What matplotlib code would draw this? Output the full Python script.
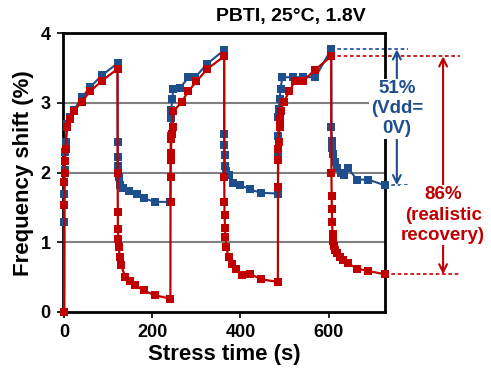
import numpy as np
import matplotlib.pyplot as plt

plt.rcParams['font.family'] = ['Liberation Sans', 'DejaVu Sans']
plt.rcParams['font.weight'] = 'bold'

BLUE = '#1F4E8C'
RED = '#C00000'

# Vdd = 0V recovery (blue), stress/recovery cycles
blue_t = [0, 0.3, 0.6, 1, 2, 3, 6.5, 12.5, 22, 40, 59, 86, 121,
          121.3, 121.6, 122, 123.6, 126.8, 133.5, 146, 165, 182, 205, 241,
          241.3, 241.6, 242, 243, 245, 248, 263.5, 282, 297.5, 324, 363,
          363.3, 363.6, 364, 365, 367, 373, 384, 400, 422, 446, 485,
          485.3, 485.6, 486, 487, 489, 491, 495, 520, 543, 570, 606,
          606.5, 607, 608, 610, 614, 620, 628, 634, 645, 664, 690, 727]
blue_y = [0, 1.29, 1.70, 2.04, 2.30, 2.44, 2.70, 2.80, 2.90, 3.08, 3.23, 3.40, 3.57,
          2.44, 2.23, 2.10, 1.94, 1.82, 1.78, 1.73, 1.70, 1.63, 1.58, 1.58,
          2.20, 2.53, 2.79, 2.90, 3.06, 3.20, 3.22, 3.37, 3.37, 3.56, 3.76,
          2.56, 2.40, 2.25, 2.10, 2.02, 1.96, 1.85, 1.82, 1.76, 1.71, 1.70,
          2.25, 2.52, 2.80, 2.92, 3.06, 3.20, 3.37, 3.37, 3.37, 3.37, 3.77,
          2.65, 2.46, 2.35, 2.27, 2.15, 2.06, 2.00, 1.96, 2.06, 1.90, 1.90, 1.82]

# realistic recovery (red)
red_t = [0, 0.3, 0.6, 1, 2, 3, 6.5, 12.5, 22, 40, 59, 86, 121,
         121.3, 121.6, 122, 122.5, 123.6, 126, 129, 139, 150, 161, 180, 205, 241,
         241.3, 241.6, 242, 242.5, 243, 244.6, 246, 248, 267, 282, 300, 325, 363,
         363.3, 363.6, 364, 365, 366, 368, 373, 381, 390, 403, 421, 446, 485,
         485.3, 485.6, 486, 486.5, 488.8, 490, 492, 498, 511, 524, 543, 570, 606,
         606.5, 607, 607.5, 608, 609, 610, 612, 615, 619, 625, 632, 645, 664, 690, 727]
red_y = [0, 1.53, 1.87, 1.99, 2.17, 2.34, 2.65, 2.77, 2.89, 3.02, 3.17, 3.32, 3.49,
         1.99, 1.43, 1.19, 1.05, 0.93, 0.79, 0.67, 0.50, 0.44, 0.38, 0.31, 0.24, 0.19,
         1.58, 1.94, 2.18, 2.28, 2.49, 2.55, 2.65, 2.88, 3.02, 3.17, 3.31, 3.49, 3.67,
         1.94, 1.58, 1.39, 1.20, 1.08, 0.93, 0.79, 0.69, 0.62, 0.53, 0.55, 0.47, 0.43,
         1.80, 2.18, 2.34, 2.44, 2.65, 2.77, 2.89, 3.01, 3.17, 3.32, 3.32, 3.48, 3.67,
         1.99, 1.67, 1.48, 1.29, 1.12, 1.02, 0.95, 0.89, 0.84, 0.79, 0.74, 0.70, 0.62, 0.59, 0.54]

x_ticks = [0, 200, 400, 600]
y_ticks = [0, 1, 2, 3, 4]

fig = plt.figure(figsize=(4.91, 3.79), dpi=100)
ax = fig.add_axes([0.129, 0.177, 0.655, 0.735])

for yv in y_ticks[1:4]:
    ax.axhline(yv, color='#808080', lw=1.5, zorder=1)

ax.plot(blue_t, blue_y, color=BLUE, lw=1.5, marker='s', ms=6, mew=0, clip_on=False, zorder=3)
ax.plot(red_t, red_y, color=RED, lw=1.6, marker='s', ms=6, mew=0, clip_on=False, zorder=4)

ax.set_xlim(-2, 728)
ax.set_ylim(0, 4)
ax.set_xticks(x_ticks)
ax.set_yticks(y_ticks)
ax.tick_params(direction='out', length=4, width=1.2, labelsize=13, pad=5)
for s in ax.spines.values():
    s.set_linewidth(2)
ax.set_xlabel('Stress time (s)', fontsize=16, fontweight='bold', labelpad=2)
ax.set_ylabel('Frequency shift (%)', fontsize=16, fontweight='bold', labelpad=5)

fig.text(291 / 491, 1 - 17 / 379, 'PBTI, 25\u00b0C, 1.8V', ha='center', va='center',
         fontsize=14, fontweight='bold')

# annotations (51% / 86%)
blue_peak, blue_end = blue_y[-13], blue_y[-1]
red_peak, red_end = red_y[-16], red_y[-1]
xb, xr = 755, 860
dash = (0, (2.2, 1.6))
ax.plot([606, 780], [blue_peak, blue_peak], color=BLUE, lw=1.2, ls=dash, clip_on=False, zorder=2)
ax.plot([727, 780], [blue_end, blue_end], color=BLUE, lw=1.2, ls=dash, clip_on=False, zorder=2)
ax.plot([606, 899], [red_peak, red_peak], color=RED, lw=1.2, ls=dash, clip_on=False, zorder=2)
ax.plot([727, 899], [red_end, red_end], color=RED, lw=1.2, ls=dash, clip_on=False, zorder=2)
ax.annotate('', xy=(xb, blue_peak), xytext=(xb, blue_end), annotation_clip=False,
            arrowprops=dict(arrowstyle='<->', color=BLUE, lw=1.5, mutation_scale=14, shrinkA=0, shrinkB=0))
ax.annotate('', xy=(xr, red_peak), xytext=(xr, red_end), annotation_clip=False,
            arrowprops=dict(arrowstyle='<->', color=RED, lw=1.5, mutation_scale=14, shrinkA=0, shrinkB=0))
ax.text(xb, 2.92, '51%\n(Vdd=\n0V)', color=BLUE, fontsize=13.5, fontweight='bold', ha='center', va='center',
        linespacing=1.25, clip_on=False, zorder=6,
        bbox=dict(facecolor='white', edgecolor='none', pad=1))
ax.text(xr, 1.39, '86%\n(realistic\nrecovery)', color=RED, fontsize=13.5, fontweight='bold', ha='center',
        va='center', linespacing=1.25, clip_on=False, zorder=6,
        bbox=dict(facecolor='white', edgecolor='none', pad=1))

fig.savefig('out.png', dpi=100)
